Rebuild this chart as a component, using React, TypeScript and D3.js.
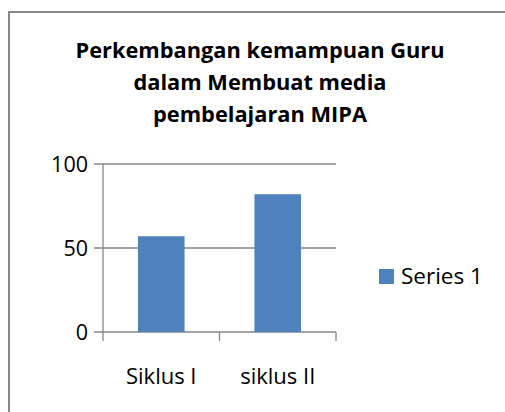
import React from "react";
import * as d3 from "d3";

const categories = ["Siklus I", "siklus II"];
const seriesValues = [57, 82];
const seriesName = "Series 1";
const yTicks = [0, 50, 100];
const titleLines = ["Perkembangan kemampuan Guru", "dalam Membuat media", "pembelajaran MIPA"];

export default function App() {
  const W = 505, H = 412;
  const left = 103, right = 336, top = 164, bottom = 332;
  const x = d3.scaleBand<string>().domain(categories).range([left, right]).paddingInner(0.6).paddingOuter(0.3);
  const y = d3.scaleLinear().domain([0, 100]).range([bottom, top]);
  const font = "'Open Sans', sans-serif";
  const grid = "#868686";
  const barColor = "#4F81BD";
  const bandStep = (right - left) / categories.length;
  return (
    <svg width={W} height={H} style={{ position: "absolute", left: 0, top: 0 }}>
      <rect x={0} y={0} width={W} height={H} fill="#fff" />
      <rect x={9} y={12} width={W} height={H} fill="#fff" stroke="#888" strokeWidth={2} />
      {titleLines.map((t, i) => (
        <text key={i} x={260} y={58 + i * 32} textAnchor="middle" fontFamily={font} fontWeight="bold" fontSize={21.8} fill="#000">{t}</text>
      ))}
      {yTicks.map((v) => (
        <g key={v}>
          <line x1={94} x2={right} y1={y(v)} y2={y(v)} stroke={grid} strokeWidth={1.3} />
          <text x={88} y={y(v) + 7.8} textAnchor="end" fontFamily={font} fontSize={21.5} fill="#000">{v}</text>
        </g>
      ))}
      <line x1={left} x2={left} y1={top} y2={341} stroke={grid} strokeWidth={1.3} />
      {categories.map((c, i) => (
        <line key={c} x1={left + bandStep * (i + 1)} x2={left + bandStep * (i + 1)} y1={bottom} y2={341} stroke={grid} strokeWidth={1.3} />
      ))}
      {categories.map((c, i) => (
        <rect key={c} x={x(c)} y={y(seriesValues[i])} width={x.bandwidth()} height={bottom - y(seriesValues[i])} fill={barColor} />
      ))}
      {categories.map((c) => (
        <text key={c} x={(x(c) as number) + x.bandwidth() / 2} y={384} textAnchor="middle" fontFamily={font} fontSize={22} fill="#000">{c}</text>
      ))}
      <rect x={379} y={269} width={15} height={15} fill={barColor} />
      <text x={401} y={284} fontFamily={font} fontSize={22.5} fill="#000">{seriesName}</text>
    </svg>
  );
}
